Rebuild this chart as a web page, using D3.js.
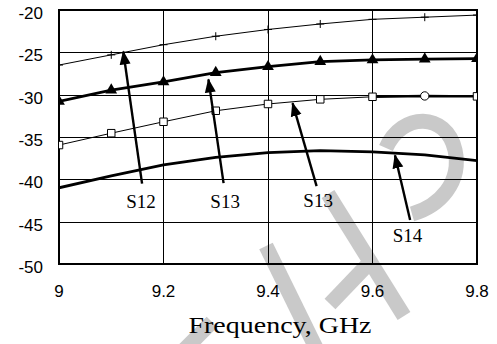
<!DOCTYPE html>
<html>
<head>
<meta charset="utf-8">
<script src="https://cdn.jsdelivr.net/npm/d3@7/dist/d3.min.js"></script>
<style>
  body { margin: 0; background: #fff; }
  svg { display: block; }
</style>
</head>
<body>
<svg id="chart"></svg>
<script>
// values (dB)
const freq = [9.0, 9.1, 9.2, 9.3, 9.4, 9.5, 9.6, 9.7, 9.8];
const s12 = [-26.5, -25.3, -24.1, -23.1, -22.3, -21.65, -21.1, -20.85, -20.6];
const s13 = [-30.8, -29.45, -28.5, -27.4, -26.7, -26.1, -25.9, -25.8, -25.75];
const s13b = [-35.95, -34.55, -33.2, -31.9, -31.1, -30.55, -30.25, -30.15, -30.2];
const s13bMarks = ['square', 'square', 'square', 'square', 'square', 'square', 'square', 'circle', 'square'];
const s14 = [-41.0, -39.6, -38.3, -37.4, -36.85, -36.6, -36.75, -37.1, -37.8];

const xTicks = [9, 9.2, 9.4, 9.6, 9.8];
const yTicks = [-50, -45, -40, -35, -30, -25, -20];

// callouts: label position, arrow tail and tip, in data units
const callouts = [
  { text: 'S12', lx: 9.157, ly: -42.6, x0: 9.159, y0: -40.5, x1: 9.123, y1: -24.9 },
  { text: 'S13', lx: 9.318, ly: -42.6, x0: 9.315, y0: -40.45, x1: 9.286, y1: -28.2 },
  { text: 'S13', lx: 9.496, ly: -42.4, x0: 9.493, y0: -40.8, x1: 9.447, y1: -31.0 },
  { text: 'S14', lx: 9.667, ly: -46.55, x0: 9.672, y0: -44.8, x1: 9.643, y1: -37.15 }
];

const width = 497, height = 344;
const margin = { top: 10, right: 20, bottom: 80, left: 59 };

const x = d3.scaleLinear().domain([9, 9.8]).range([margin.left, width - margin.right]);
const y = d3.scaleLinear().domain([-50, -20]).range([height - margin.bottom, margin.top]);
const px = v => Math.round(v) + 0.5;

const svg = d3.select('#chart').attr('width', width).attr('height', height);

// faint watermark behind everything
const wm = svg.append('g')
  .attr('fill', 'none')
  .attr('stroke', '#c9c9c9')
  .attr('stroke-width', 15);
wm.append('path').attr('d', 'M182,352L212,322');
wm.append('path').attr('d', 'M266,246L318,352');
wm.append('path').attr('d', 'M330,304L374,258');
wm.append('path').attr('d', 'M328,194L404,316');
wm.append('path').attr('d', 'M386,148C402,112 446,112 455,150C462,182 440,206 412,214');

svg.append('clipPath').attr('id', 'plot')
  .append('rect')
  .attr('x', margin.left).attr('y', margin.top)
  .attr('width', width - margin.left - margin.right)
  .attr('height', height - margin.top - margin.bottom);

// grid
const grid = svg.append('g').attr('stroke', '#000').attr('stroke-width', 1)
  .attr('shape-rendering', 'crispEdges');
grid.selectAll('.h').data(yTicks).join('line')
  .attr('x1', x(9)).attr('x2', x(9.8))
  .attr('y1', d => px(y(d))).attr('y2', d => px(y(d)));
grid.selectAll('.v').data(xTicks).join('line')
  .attr('x1', d => px(x(d))).attr('x2', d => px(x(d)))
  .attr('y1', y(-50)).attr('y2', y(-20));

svg.append('rect')
  .attr('x', x(9)).attr('y', y(-20))
  .attr('width', x(9.8) - x(9)).attr('height', y(-50) - y(-20))
  .attr('fill', 'none').attr('stroke', '#000').attr('stroke-width', 2)
  .attr('shape-rendering', 'crispEdges');

// axis labels
svg.append('g')
  .attr('font-family', '"Liberation Sans", Arial, sans-serif')
  .attr('font-size', 17).attr('text-anchor', 'end')
  .selectAll('text').data(yTicks).join('text')
  .attr('x', 43).attr('y', d => y(d) + 9)
  .text(d => d);

svg.append('g')
  .attr('font-family', '"Liberation Sans", Arial, sans-serif')
  .attr('font-size', 17).attr('text-anchor', 'middle')
  .selectAll('text').data(xTicks).join('text')
  .attr('x', d => x(d)).attr('y', 297)
  .text(d => d3.format('~g')(d));

svg.append('text')
  .attr('x', 280).attr('y', 333)
  .attr('text-anchor', 'middle')
  .attr('font-family', '"Liberation Serif", "Times New Roman", serif')
  .attr('font-size', 23)
  .attr('textLength', 183).attr('lengthAdjust', 'spacingAndGlyphs')
  .text('Frequency, GHz');

// curves
const line = d3.line().x((d, i) => x(freq[i])).y(d => y(d));
const plot = svg.append('g').attr('clip-path', 'url(#plot)');

const series = [
  { values: s12, w: 1 },
  { values: s13, w: 2.8 },
  { values: s13b, w: 1 },
  { values: s14, w: 2.8 }
];
series.forEach(s => {
  plot.append('path').datum(s.values)
    .attr('fill', 'none').attr('stroke', '#000')
    .attr('stroke-width', s.w)
    .attr('stroke-linejoin', 'round')
    .attr('d', line);
});
// the last part of the square curve is drawn heavier
plot.append('path').datum(s13b.slice(6))
  .attr('fill', 'none').attr('stroke', '#000').attr('stroke-width', 2.4)
  .attr('d', d3.line().x((d, i) => x(freq[i + 6])).y(d => y(d)));

// markers
plot.selectAll('.plus').data(s12).join('path')
  .attr('d', (d, i) => `M${x(freq[i]) - 4},${y(d)}h8M${x(freq[i])},${y(d) - 4}v8`)
  .attr('stroke', '#000').attr('stroke-width', 1);

plot.selectAll('.tri').data(s13).join('path')
  .attr('d', d3.symbol(d3.symbolTriangle, 60))
  .attr('transform', (d, i) => `translate(${x(freq[i])},${y(d)})`)
  .attr('fill', '#000');

plot.selectAll('.sq').data(s13b).join('path')
  .attr('d', (d, i) => s13bMarks[i] === 'circle'
    ? d3.symbol(d3.symbolCircle, 55)()
    : d3.symbol(d3.symbolSquare, 56)())
  .attr('transform', (d, i) => `translate(${x(freq[i])},${y(d)})`)
  .attr('fill', '#fff').attr('stroke', '#000').attr('stroke-width', 1);

// arrows with labels
svg.append('defs').append('marker')
  .attr('id', 'head')
  .attr('viewBox', '0 -6 14 12')
  .attr('refX', 13).attr('refY', 0)
  .attr('markerUnits', 'userSpaceOnUse')
  .attr('markerWidth', 14).attr('markerHeight', 12)
  .attr('orient', 'auto')
  .append('path').attr('d', 'M0,-5.5L14,0L0,5.5Z').attr('fill', '#000');

const notes = svg.append('g');
notes.selectAll('line').data(callouts).join('line')
  .attr('x1', d => x(d.x0)).attr('y1', d => y(d.y0))
  .attr('x2', d => x(d.x1)).attr('y2', d => y(d.y1))
  .attr('stroke', '#000').attr('stroke-width', 2.4)
  .attr('marker-end', 'url(#head)');
notes.selectAll('text').data(callouts).join('text')
  .attr('x', d => x(d.lx)).attr('y', d => y(d.ly) + 7)
  .attr('text-anchor', 'middle')
  .attr('font-family', '"Liberation Serif", "Times New Roman", serif')
  .attr('font-size', 19)
  .text(d => d.text);
</script>
</body>
</html>
